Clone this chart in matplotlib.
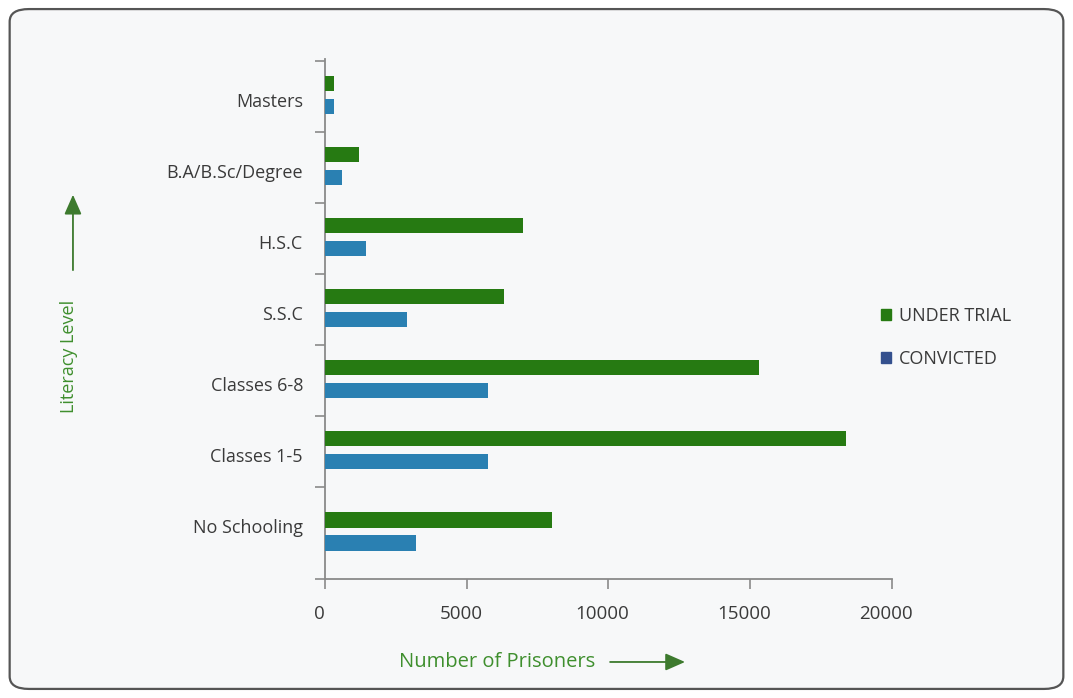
import numpy as np
import matplotlib.pyplot as plt
from matplotlib.patches import FancyBboxPatch, FancyArrowPatch, Patch
from matplotlib.transforms import ScaledTranslation

levels = ["No Schooling", "Classes 1-5", "Classes 6-8", "S.S.C", "H.S.C",
          "B.A/B.Sc/Degree", "Masters"]
under_trial = [8000, 18400, 15300, 6300, 7000, 1200, 300]
convicted = [3200, 5750, 5750, 2900, 1450, 600, 300]
series_names = ["UNDER TRIAL", "CONVICTED"]
x_ticks = [0, 5000, 10000, 15000, 20000]

green = "#267a12"
blue = "#2a80b2"
legend_blue = "#34508e"
label_green = "#3f8f2e"
text_col = "#3a3a3a"
axis_col = "#8a8a8a"

plt.rcParams["font.family"] = ["Open Sans", "DejaVu Sans"]

fig = plt.figure(figsize=(10.73, 6.98), dpi=100)
fig.patch.set_facecolor("white")

# rounded frame of the scanned card
card = FancyBboxPatch((0.009, 0.013), 0.982, 0.974,
                      boxstyle="round,pad=0,rounding_size=0.018",
                      transform=fig.transFigure, facecolor="#f7f8f9",
                      edgecolor="#555555", linewidth=1.6, zorder=-5)
fig.patches.append(card)

ax = fig.add_axes([0.303, 0.1705, 0.528, 0.745])
ax.set_facecolor("none")
ax.set_zorder(2)

y_top, y_bot = 6.525, -0.80
pos = np.arange(len(levels), dtype=float)
# the bottom category band is taller in the original; its bars sit centred in it
y = pos.copy()
y[0] = (0.5 + y_bot) / 2

h = 0.22
ax.barh(y + 0.18, under_trial, height=h, color=green, zorder=3)
ax.barh(y - 0.145, convicted, height=h, color=blue, zorder=3)

ax.set_xlim(0, 20000)
ax.set_ylim(y_bot, y_top)
ax.set_xticks(x_ticks)
ax.set_xticklabels([str(v) for v in x_ticks], fontsize=13.5, color=text_col)
ax.set_yticks(pos - 0.05)
ax.set_yticklabels(levels, fontsize=13, color=text_col)
ax.tick_params(axis="y", which="major", length=0, pad=16)
ax.set_yticks([y_bot] + list(np.arange(0.5, 7.0, 1.0)), minor=True)
ax.tick_params(axis="y", which="minor", length=7, color=axis_col, width=1.2)
ax.tick_params(axis="x", length=7, color=axis_col, width=1.2, pad=12)

# x labels sit a little left of their ticks in the original
shift = ScaledTranslation(-6 / 100, 0, fig.dpi_scale_trans)
for lbl in ax.get_xticklabels():
    lbl.set_transform(lbl.get_transform() + shift)

for s in ["top", "right"]:
    ax.spines[s].set_visible(False)
for s in ["left", "bottom"]:
    ax.spines[s].set_color(axis_col)
    ax.spines[s].set_linewidth(1.3)

handles = [Patch(color=green), Patch(color=legend_blue)]
fig.legend(handles, series_names, loc="upper left",
           bbox_to_anchor=(0.806, 0.583), frameon=False, fontsize=13,
           handlelength=0.55, handleheight=0.55, handletextpad=0.45,
           labelspacing=1.35, labelcolor=text_col)

# axis titles with arrows
fig.text(0.064, 0.49, "Literacy Level", rotation=90, fontsize=13,
         color=label_green, ha="center", va="center")
fig.patches.append(FancyArrowPatch(
    (0.068, 0.609), (0.068, 0.725), transform=fig.transFigure,
    arrowstyle="-|>,head_length=5,head_width=2.2", color="#3d7a2e",
    linewidth=1.3, mutation_scale=2.4))
fig.text(0.372, 0.052, "Number of Prisoners", fontsize=14.5,
         color=label_green, ha="left", va="center")
fig.patches.append(FancyArrowPatch(
    (0.566, 0.0516), (0.641, 0.0516), transform=fig.transFigure,
    arrowstyle="-|>,head_length=5,head_width=2.2", color="#3d7a2e",
    linewidth=1.3, mutation_scale=2.4))

fig.savefig("out.png", dpi=100, facecolor=fig.get_facecolor())
